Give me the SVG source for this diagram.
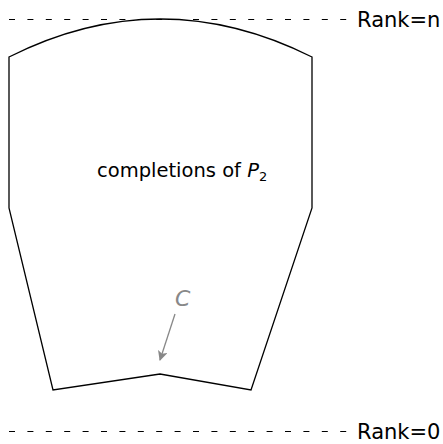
<svg xmlns="http://www.w3.org/2000/svg" width="443" height="444" viewBox="0 0 443 444">
<style>
.dash{stroke:#000;stroke-width:1.2;stroke-dasharray:6 12.4;fill:none}
.shape{stroke:#000;stroke-width:1.3;fill:none;stroke-linejoin:miter}
.lbl{font-family:"DejaVu Sans","Liberation Sans",sans-serif;fill:#000}
.gray{stroke:#888;stroke-width:1.3;fill:none}
</style>
<defs>
<marker id="ah" markerWidth="10" markerHeight="10" refX="9" refY="5" orient="auto" markerUnits="userSpaceOnUse">
<path d="M0,0 L10,5 L0,10 L2.5,5 Z" fill="#888"/>
</marker>
</defs>
<g id="rank-n">
<line class="dash" x1="9" y1="19.5" x2="350" y2="19.5"/>
<text class="lbl" x="357" y="27" font-size="21">Rank=n</text>
</g>
<g id="rank-0">
<line class="dash" x1="9" y1="431.5" x2="350" y2="431.5"/>
<text class="lbl" x="357" y="439" font-size="21">Rank=0</text>
</g>
<g id="completions">
<path class="shape" d="M9,57 Q160,-19 312,57 L312,208 L251,390 L160,374 L53,390 L9,208 Z"/>
<text class="lbl" x="97" y="177" font-size="19.5">completions of <tspan font-style="italic">P</tspan><tspan font-size="13" dy="4">2</tspan></text>
</g>
<g id="connectors">
<text x="175" y="306" font-size="22" font-style="italic" fill="#888" font-family="DejaVu Sans,sans-serif">C</text>
<line class="gray" x1="175" y1="314" x2="160" y2="360" marker-end="url(#ah)"/>
</g>
</svg>
